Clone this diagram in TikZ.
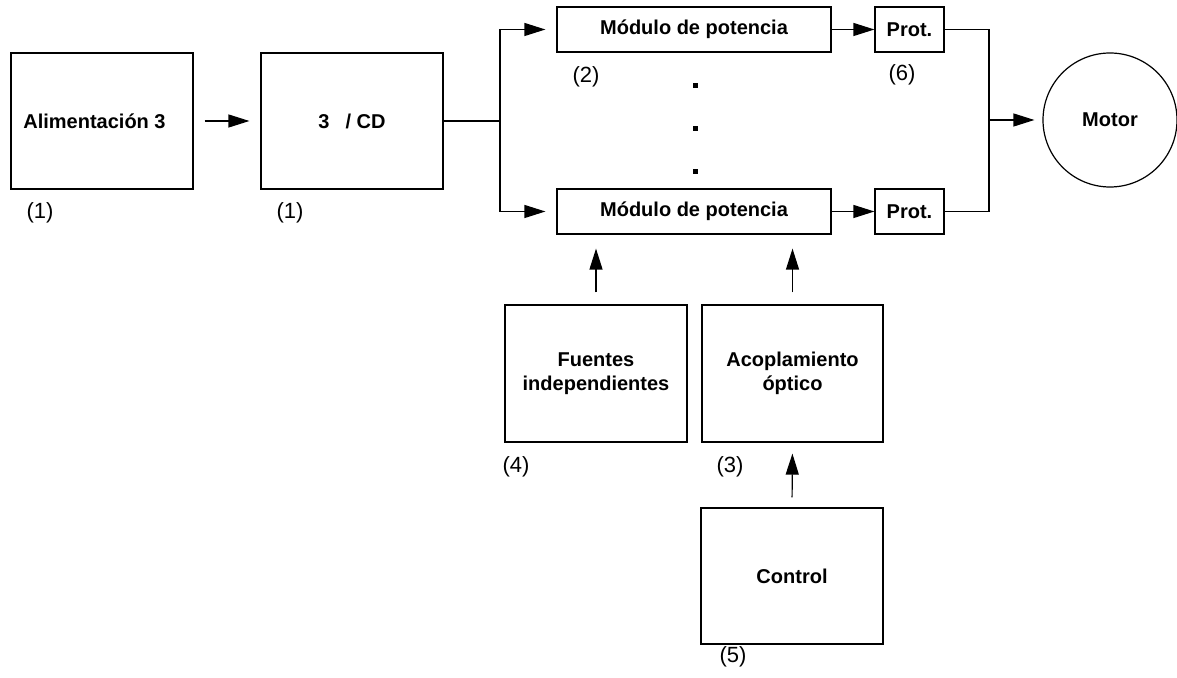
\documentclass[tikz,border=0pt]{standalone}
\usepackage{fontspec}
\setmainfont{Liberation Sans}
\usetikzlibrary{arrows.meta}

\tikzset{
  blk/.style={draw, line width=0.6pt, inner sep=0pt, align=center, font=\bfseries},
  arr/.style={-{Triangle[length=10.5pt,width=6.5pt]}, line width=0.6pt},
  tag/.style={font=\fontsize{11}{13}\selectfont}
}

\begin{document}
\begin{tikzpicture}[x=0.5pt,y=-0.5pt,line width=0.6pt]
			\useasboundingbox (0,0) rectangle (1177,678);
			% bloques
			\node[blk,minimum width=91pt,minimum height=68pt] (ali) at (102,121) {\hspace*{-7.5pt}Alimentación 3};
			\node[blk,minimum width=91pt,minimum height=68pt] (cd) at (352,121) {3\hspace{8pt}/ CD};
			\node[blk,minimum width=137pt,minimum height=22.5pt] (mod1) at (694,29.5) {Módulo de potencia};
			\node[blk,minimum width=137pt,minimum height=22.5pt] (mod2) at (694,211.5) {Módulo de potencia};
			\node[blk,minimum width=34.5pt,minimum height=22.5pt] (prot1) at (909.5,29.5) {Prot.};
			\node[blk,minimum width=34.5pt,minimum height=22.5pt] (prot2) at (909.5,211.5) {Prot.};
			\node[blk,circle,minimum size=67pt] (motor) at (1110,120) {Motor};
			\node[blk,minimum width=91pt,minimum height=68.5pt] (fue) at (596,373.5) {Fuentes\\independientes};
			\node[blk,minimum width=90.5pt,minimum height=68.5pt] (aco) at (792.5,373.5) {Acoplamiento\\óptico};
			\node[blk,minimum width=91pt,minimum height=68pt] (ctl) at (792,576) {Control};
			% puntos
			\node[fill,inner sep=0pt,minimum size=2.5pt] (dot1) at (695.5,86) {};
			\node[fill,inner sep=0pt,minimum size=2.5pt] (dot2) at (695.5,129) {};
			\node[fill,inner sep=0pt,minimum size=2.5pt] (dot3) at (695.5,172) {};
			% etiquetas
			\node[tag] (n1a) at (40,213) {(1)};
			\node[tag] (n1b) at (290,213) {(1)};
			\node[tag] (n2) at (586,77) {(2)};
			\node[tag] (n6) at (902,75) {(6)};
			\node[tag] (n4) at (516,467) {(4)};
			\node[tag] (n3) at (730,467) {(3)};
			\node[tag] (n5) at (733,657) {(5)};
			% conexiones
			\coordinate (split) at (500,121);
			\coordinate (join) at (989,120);
			\draw[arr,shorten <=5.5pt,shorten >=5.5pt] (ali) -- (cd);
			\draw (cd.east) -- (split);
			\draw[arr,shorten >=5.5pt] (split) |- (mod1.west);
			\draw[arr,shorten >=5.5pt] (split) |- (mod2.west);
			\draw[arr] (mod1) -- (prot1);
			\draw[arr] (mod2) -- (prot2);
			\draw (prot1.east) -| (join);
			\draw (prot2.east) -| (join);
			\draw[arr,shorten >=4pt] (join) -- (motor.west);
			\draw[arr,shorten <=6pt,shorten >=7pt] (fue.north) -- (fue.north |- mod2.south);
			\draw[arr,shorten <=6pt,shorten >=7pt] (aco.north) -- (aco.north |- mod2.south);
			\draw[arr,shorten <=5pt,shorten >=5.5pt] (ctl.north) -- (aco.south);
		\end{tikzpicture}
\end{document}
